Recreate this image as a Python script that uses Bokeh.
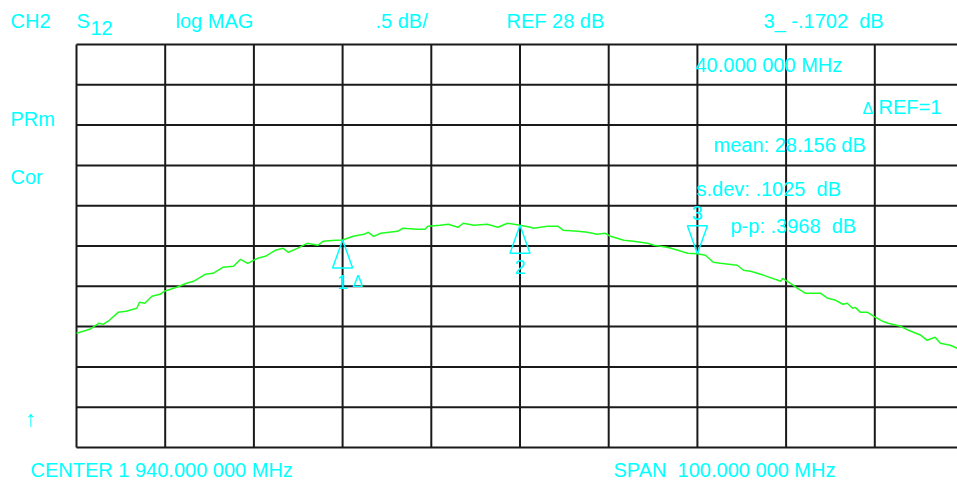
from bokeh.plotting import figure
from bokeh.models import Label, Range1d
from bokeh.embed import file_html
from bokeh.resources import INLINE

# ---------------- instrument settings ----------------
CENTER_MHZ = 1940.0
SPAN_MHZ = 100.0
REF_DB = 28.0
SCALE_DB = 0.5      # dB per division
DIVS = 10

# ---------------- trace (S12 log MAG) ----------------
freq_mhz = [
    1890.0, 1891.5, 1892.5, 1893.0, 1893.7, 1894.7, 1895.6, 1896.8, 1897.1, 1897.7,
    1898.5, 1899.4, 1899.9, 1901.3, 1902.4, 1903.2, 1904.5, 1905.4, 1906.5, 1907.7,
    1908.5, 1909.3, 1910.4, 1911.3, 1912.4, 1913.3, 1913.9, 1914.9, 1916.0, 1917.2,
    1917.8, 1919.2, 1920.0, 1921.2, 1922.4, 1922.9, 1923.5, 1924.3, 1926.2, 1926.8,
    1928.4, 1929.3, 1929.6, 1931.0, 1931.9, 1933.0, 1933.6, 1934.8, 1936.3, 1937.5,
    1938.6, 1940.0, 1941.2, 1941.5, 1943.1, 1944.3, 1944.9, 1946.5, 1947.6, 1948.7,
    1949.6, 1950.2, 1951.7, 1952.8, 1954.4, 1955.1, 1956.6, 1957.8, 1958.9, 1960.0,
    1960.9, 1961.8, 1962.6, 1964.5, 1965.2, 1966.0, 1967.5, 1969.4, 1969.6, 1970.5,
    1971.3, 1972.2, 1973.9, 1974.7, 1975.6, 1976.4, 1976.9, 1977.5, 1977.8, 1978.4,
    1979.2, 1979.9, 1980.9, 1981.5, 1982.9, 1983.8, 1985.2, 1985.9, 1986.8, 1987.4,
    1988.5, 1989.3,
]
s12_db = [
    26.917, 26.966, 27.041, 27.029, 27.078, 27.177, 27.190, 27.227, 27.301, 27.289,
    27.376, 27.401, 27.438, 27.488, 27.537, 27.562, 27.649, 27.661, 27.736, 27.748,
    27.835, 27.785, 27.847, 27.872, 27.947, 27.971, 27.922, 27.971, 28.033, 28.009,
    28.058, 28.071, 28.074, 28.120, 28.145, 28.170, 28.120, 28.158, 28.182, 28.220,
    28.207, 28.207, 28.244, 28.257, 28.269, 28.232, 28.282, 28.257, 28.269, 28.232,
    28.282, 28.257, 28.232, 28.220, 28.244, 28.244, 28.195, 28.182, 28.170, 28.145,
    28.158, 28.120, 28.071, 28.058, 28.033, 28.009, 27.984, 27.947, 27.909, 27.904,
    27.885, 27.798, 27.785, 27.761, 27.699, 27.686, 27.636, 27.562, 27.599, 27.537,
    27.475, 27.413, 27.413, 27.351, 27.326, 27.277, 27.289, 27.227, 27.239, 27.177,
    27.177, 27.128, 27.066, 27.041, 27.004, 26.954, 26.892, 26.830, 26.867, 26.793,
    26.768, 26.731,
]

# ---------------- markers ----------------
marker_ids = ["1", "2", "3"]
marker_freq = [1920.0, 1940.0, 1960.0]
marker_db = [28.074, 28.257, 27.904]
marker_dir = ["up", "up", "down"]
ref_marker = "1"

# ---------------- annotation texts ----------------
top_texts = ["CH2", "S", "12", "log MAG", ".5 dB/", "REF 28 dB", "3_ -.1702\u00a0\u00a0dB"]
readout_texts = ["40.000 000 MHz", "REF=1", "mean: 28.156 dB",
                 "s.dev: .1025\u00a0\u00a0dB", "p-p: .3968\u00a0\u00a0dB"]
side_texts = ["PRm", "Cor", "\u2191"]
bottom_texts = ["CENTER 1 940.000 000 MHz", "SPAN\u00a0\u00a0100.000 000 MHz"]

# ---------------- layout (pixels) ----------------
FIG_W, FIG_H = 957, 480
GRID_LEFT_PX, GRID_BOTTOM_PX = 76, 447   # where the graticule's lower-left corner sits
PX_X = 8.87            # px per MHz
PX_Y = 80.6            # px per dB
BASE_FIX = 0.35        # em correction for baseline placement
CYAN = "#00ffff"
GREEN = "#1eff1e"
GRID_COLOR = "#1a1a1a"
FONT = "Liberation Sans"

f_start = CENTER_MHZ - SPAN_MHZ / 2
f_stop = CENTER_MHZ + SPAN_MHZ / 2
y_bottom = REF_DB - SCALE_DB * DIVS / 2
y_top = REF_DB + SCALE_DB * DIVS / 2


def X(px):
    return f_start + (px - GRID_LEFT_PX) / PX_X


def Y(py):
    return y_bottom + (GRID_BOTTOM_PX - py) / PX_Y


p = figure(width=FIG_W, height=FIG_H,
           x_range=Range1d(X(0), X(FIG_W)), y_range=Range1d(Y(FIG_H), Y(0)),
           x_axis_type=None, y_axis_type=None, output_backend="svg",
           toolbar_location=None, min_border=0)
p.outline_line_color = None
p.background_fill_color = "white"
p.border_fill_color = "white"
p.xgrid.visible = False
p.ygrid.visible = False

# graticule
gx = [f_start + i * SPAN_MHZ / DIVS for i in range(DIVS + 1)]
gy = [y_bottom + j * SCALE_DB for j in range(DIVS + 1)]
p.segment(x0=gx, y0=[y_bottom] * len(gx), x1=gx, y1=[y_top] * len(gx),
          line_color=GRID_COLOR, line_width=2)
p.segment(x0=[f_start] * len(gy), y0=gy, x1=[f_stop] * len(gy), y1=gy,
          line_color=GRID_COLOR, line_width=2)

# trace
p.line(freq_mhz, s12_db, line_color=GREEN, line_width=1.5)


def txt(s, px, py, size=20, align="left"):
    p.add_layout(Label(x=X(px), y=Y(py - BASE_FIX * size), text=s, text_color=CYAN,
                       text_font=FONT, text_font_size=f"{size}px",
                       text_align=align, text_baseline="alphabetic"))


# top line
txt(top_texts[0], 10, 27.5)
txt(top_texts[1], 76, 27.5)
txt(top_texts[2], 90, 34.3)
txt(top_texts[3], 175, 27.5)
txt(top_texts[4], 375, 27.5)
txt(top_texts[5], 506, 27.5)
txt(top_texts[6], 763, 27.5)
# readouts
txt(readout_texts[0], 695, 71.5)
txt("\u0394", 862, 114, size=16)
txt(readout_texts[1], 878, 113.5)
txt(readout_texts[2], 713, 151.5)
txt(readout_texts[3], 696, 195.5)
txt(readout_texts[4], 730, 232.5)
# side
txt(side_texts[0], 10, 125.5)
txt(side_texts[1], 10, 183.5)
txt(side_texts[2], 30, 426, size=22, align="center")
# bottom
txt(bottom_texts[0], 30, 476)
txt(bottom_texts[1], 613, 476)

# markers
TRI_H, TRI_HW = 28, 10
xs, ys = [], []
for mid, f, d, dr in zip(marker_ids, marker_freq, marker_db, marker_dir):
    s = -1 if dr == "up" else 1
    base = d + s * TRI_H / PX_Y
    xs.append([f, f - TRI_HW / PX_X, f + TRI_HW / PX_X])
    ys.append([d, base, base])
    if dr == "up":
        ly = base - (21 - BASE_FIX * 20) / PX_Y
    else:
        ly = base + (6 + BASE_FIX * 20) / PX_Y
    p.add_layout(Label(x=f, y=ly, text=mid, text_color=CYAN, text_font=FONT,
                       text_font_size="20px", text_align="center",
                       text_baseline="alphabetic"))
    if mid == ref_marker:
        p.add_layout(Label(x=f + 10 / PX_X, y=base - (19 - BASE_FIX * 16) / PX_Y,
                           text="\u0394", text_color=CYAN, text_font=FONT,
                           text_font_size="16px", text_align="left",
                           text_baseline="alphabetic"))
p.patches(xs, ys, fill_color=None, line_color=CYAN, line_width=1.5)

open("out.html", "w").write(file_html(p, INLINE))
